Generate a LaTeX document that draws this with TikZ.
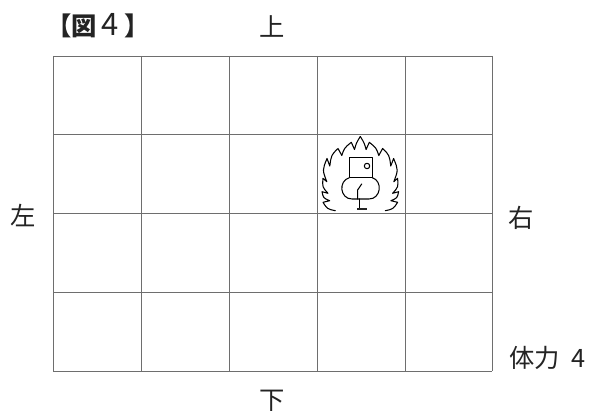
\documentclass[tikz,border=0pt]{standalone}
\usepackage{fontspec}
\newfontfamily\cjk{Noto Sans CJK JP}
\definecolor{gridgray}{RGB}{110,110,110}
\definecolor{inkblack}{RGB}{35,35,35}
\tikzset{
  gridline/.style={draw=gridgray,line width=0.7pt},
  label/.style={font=\cjk\fontsize{18}{18}\selectfont,text=inkblack,inner sep=0pt},
  sketch/.style={draw=black,line width=0.75pt,line join=round,line cap=round},
}
\begin{document}
\begin{tikzpicture}[x=0.025cm,y=-0.025cm]
  \useasboundingbox (0,0) rectangle (590,412);
  % grid
  \foreach \x in {53,141,229,317,405,492}
    \draw[gridline] (\x,56) -- (\x,371);
  \foreach \y in {56,134,213,292,371}
    \draw[gridline] (53,\y) -- (492,\y);
  \fill[white] (318,135) rectangle (404,212);
  % texts
  \node[label] (title) at (98,26) {{\bfseries 【図}\hspace{3pt}{\fontsize{22}{22}\selectfont 4}\hspace{4.5pt}{\bfseries 】}};
  \node[label] (up) at (272,26) {上};
  \node[label] (down) at (272,401) {下};
  \node[label] (left) at (23,216) {左};
  \node[label] (right) at (521,218) {右};
  \node[label,anchor=west] (power) at (509,358) {体力\hspace{8pt}4};
  % flames, both halves
  \foreach \s in {1,-1}
    \draw[sketch,shift={(360.3,0)},xscale=\s] (-25,210.7) .. controls (-33,209) .. (-37.3,202.3)
      -- (-30.6,200.7) .. controls (-37,198) .. (-38.3,191.7)
      -- (-32.3,193.3) .. controls (-38,187) .. (-37.3,178.3)
      -- (-33.5,181.7) .. controls (-38,170) .. (-33.3,158.5)
      -- (-30.5,166) .. controls (-29,155) .. (-22.3,148.5)
      -- (-18.5,155.5) .. controls (-16,148) .. (-9,142.3)
      -- (-5.8,149.5) .. controls (-4,143) .. (0,136.5);
  % figure inside
  \draw[sketch] (349.3,157.3) rectangle (372.3,177.7);
  \draw[sketch] (367,166) circle (2.7);
  \draw[sketch] (349.3,177.7) .. controls (338,181) and (340,199) .. (352,199)
    -- (369,199) .. controls (381,199) and (383,181) .. (372.3,177.7);
  \draw[sketch] (361.7,184) -- (357.6,190) -- (357.6,199);
  \draw[sketch] (359.5,199) -- (359.5,208);
  \fill[inkblack] (357.3,207.8) rectangle (366.7,209.8);
\end{tikzpicture}
\end{document}
